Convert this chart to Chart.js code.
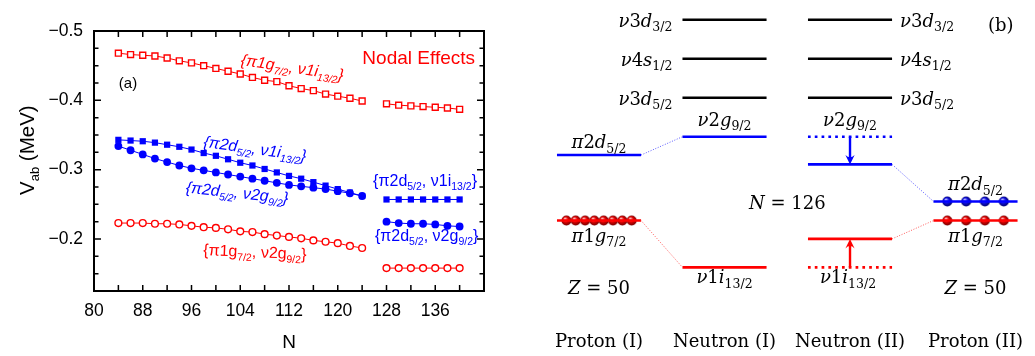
<!DOCTYPE html>
<html><head><meta charset="utf-8">
<script src="https://cdn.jsdelivr.net/npm/chart.js@4.4.0/dist/chart.umd.min.js"></script>
<style>
html,body{margin:0;padding:0;background:#fff;width:1035px;height:356px;overflow:hidden}
#ca{position:absolute;left:0;top:0}
#cb{position:absolute;left:500px;top:0}
</style>
</head><body>
<canvas id="ca" width="500" height="356"></canvas>
<canvas id="cb" width="535" height="356"></canvas>
<script>
// ---------------- Panel (a) data ----------------
const N_seg1 = [84,86,88,90,92,94,96,98,100,102,104,106,108,110,112,114,116,118,120,122,124];
const N_seg2 = [128,130,132,134,136,138,140];
// {π1g7/2, ν1i13/2}  (red open squares)
const redSq1 = [-0.468,-0.466,-0.465,-0.464,-0.461,-0.457,-0.454,-0.450,-0.446,-0.442,-0.438,-0.433,-0.429,-0.427,-0.421,-0.417,-0.414,-0.409,-0.406,-0.403,-0.399];
const redSq2 = [-0.395,-0.393,-0.392,-0.391,-0.390,-0.389,-0.387];
// {π2d5/2, ν1i13/2}  (blue filled squares)
const blueSq1 = [-0.343,-0.342,-0.341,-0.339,-0.336,-0.333,-0.329,-0.324,-0.320,-0.315,-0.310,-0.306,-0.301,-0.296,-0.291,-0.287,-0.282,-0.277,-0.272,-0.267,-0.262];
const blueSq2 = [-0.257,-0.257,-0.257,-0.257,-0.257,-0.257,-0.257];
// {π2d5/2, ν2g9/2}  (blue filled circles)
const blueCi1 = [-0.334,-0.328,-0.322,-0.316,-0.311,-0.306,-0.302,-0.299,-0.296,-0.293,-0.290,-0.287,-0.284,-0.281,-0.278,-0.276,-0.274,-0.272,-0.269,-0.266,-0.262];
const blueCi2 = [-0.225,-0.223,-0.222,-0.222,-0.221,-0.219,-0.218];
// {π1g7/2, ν2g9/2}  (red open circles)
const redCi1 = [-0.223,-0.223,-0.223,-0.222,-0.222,-0.221,-0.219,-0.217,-0.216,-0.214,-0.211,-0.210,-0.207,-0.205,-0.203,-0.201,-0.198,-0.196,-0.194,-0.190,-0.187];
const redCi2 = [-0.158,-0.158,-0.158,-0.158,-0.158,-0.158,-0.158];
const xTickLabels = [80,88,96,104,112,120,128,136];
const yTickLabels = [-0.5,-0.4,-0.3,-0.2];

// ---------------- Panel (b) data ----------------
const columnNames = ['Proton (I)','Neutron (I)','Neutron (II)','Proton (II)'];
const blackE    = [2.0, 1.0, 0.0];               // ν3d3/2, ν4s1/2, ν3d5/2
const blackMain = ['ν3d','ν4s','ν3d'];
const blackSub  = ['3/2','1/2','5/2'];
const E_pi2d = [-1.47, -2.66];   // Proton (I), Proton (II)
const E_pi1g = [-3.15, -3.15];   // Proton (I), Proton (II)
const E_nu2g = [-1.00, -1.71];   // Neutron (I), Neutron (II)
const E_nu1i = [-4.35, -3.62];   // Neutron (I), Neutron (II)
const spheresPI  = [-0.26,-0.186,-0.111,-0.037,0.037,0.111,0.186,0.26]; // π1g7/2 occupancy, Proton (I)
const spheresPII = [-0.225,-0.075,0.075,0.225];                          // Proton (II)

const RED = '#ff0000', BLUE = '#0000ff';

// ---------- rich text helper ----------
function fontFor(p,o){ const it = p.it!==undefined ? p.it : o.italic; return (it?'italic ':'') + (p.sub?o.sub:o.size)+'px '+o.family; }
function drawRich(ctx, parts, x, y, o){
  ctx.save(); ctx.translate(x,y); if(o.rot) ctx.rotate(o.rot*Math.PI/180);
  let w=0; for(const p of parts){ ctx.font=fontFor(p,o); w+=ctx.measureText(p.t).width; }
  let cx = o.align==='center' ? -w/2 : (o.align==='right' ? -w : 0);
  ctx.fillStyle=o.color||'#000'; ctx.textAlign='left'; ctx.textBaseline='alphabetic';
  for(const p of parts){ ctx.font=fontFor(p,o); ctx.fillText(p.t, cx, p.sub?o.subDy:0); cx+=ctx.measureText(p.t).width; }
  ctx.restore();
}
function sub2(a,s1,b,s2){ return [{t:a},{t:s1,sub:true},{t:b},{t:s2,sub:true},{t:'}'}]; }
// math style: letters italic, digits and symbols upright
function mathParts(main, sub){
  const parts=[];
  for(const ch of main){
    const it = /[A-Za-z\u03B1-\u03C9]/.test(ch);
    if(parts.length && parts[parts.length-1].it===it && !parts[parts.length-1].sub) parts[parts.length-1].t+=ch;
    else parts.push({t:ch,it:it});
  }
  if(sub) parts.push({t:sub,sub:true,it:false});
  return parts;
}

// ---------------- Chart (a) ----------------
function seg(v1,v2){
  return N_seg1.map((n,i)=>({x:n,y:v1[i]})).concat([{x:126,y:null}], N_seg2.map((n,i)=>({x:n,y:v2[i]})));
}
const frameA = {
  id:'frameA',
  afterDraw(chart){
    const ctx=chart.ctx, ca=chart.chartArea, xs=chart.scales.x, ys=chart.scales.y;
    ctx.save();
    ctx.strokeStyle='#000'; ctx.lineWidth=1.5;
    ctx.beginPath();
    xs.ticks.forEach(t=>{
      const px=xs.getPixelForValue(t.value);
      ctx.moveTo(px,ca.bottom); ctx.lineTo(px,ca.bottom-6);
      ctx.moveTo(px,ca.top); ctx.lineTo(px,ca.top+6);
    });
    ys.ticks.forEach(t=>{
      const major = Math.abs(Math.round(t.value*40))%4===0;
      const L = major?7:4.5, py=ys.getPixelForValue(t.value);
      ctx.moveTo(ca.left,py); ctx.lineTo(ca.left+L,py);
      ctx.moveTo(ca.right,py); ctx.lineTo(ca.right-L,py);
    });
    ctx.stroke();
    ctx.lineWidth=2;
    ctx.strokeRect(ca.left,ca.top,ca.right-ca.left,ca.bottom-ca.top);
    // axis titles
    ctx.fillStyle='#000';
    ctx.font='19px "Liberation Sans"'; ctx.textAlign='center'; ctx.textBaseline='alphabetic';
    ctx.fillText('N',(ca.left+ca.right)/2,348);
    drawRich(ctx,[{t:'V'},{t:'ab',sub:true},{t:' (MeV)'}],34,195,{size:20.5,sub:13,subDy:5,family:'"Liberation Sans"',rot:-90,color:'#000'});
    // annotations
    ctx.font='15px "Liberation Sans"'; ctx.textAlign='center';
    ctx.fillText('(a)',ca.left+34,ca.top+57);
    ctx.fillStyle=RED; ctx.font='19px "Liberation Sans"'; ctx.textAlign='right';
    ctx.fillText('Nodal Effects',ca.right-9,ca.top+33);
    const X=v=>xs.getPixelForValue(v), Y=v=>ys.getPixelForValue(v);
    const lo={size:16,sub:10.5,subDy:4,family:'"Liberation Sans"'};
    drawRich(ctx,sub2('{π1g','7/2',', ν1i','13/2'),X(104),Y(-0.451),Object.assign({},lo,{color:RED,italic:true,rot:8.5}));
    drawRich(ctx,sub2('{π2d','5/2',', ν1i','13/2'),X(97.9),Y(-0.333),Object.assign({},lo,{color:BLUE,italic:true,rot:8}));
    drawRich(ctx,sub2('{π2d','5/2',', ν2g','9/2'),X(95),Y(-0.267),Object.assign({},lo,{color:BLUE,italic:true,rot:6}));
    drawRich(ctx,sub2('{π1g','7/2',', ν2g','9/2'),X(97.9),Y(-0.177),Object.assign({},lo,{color:RED,rot:2.5}));
    drawRich(ctx,sub2('{π2d','5/2',', ν1i','13/2'),X(125.8),Y(-0.277),Object.assign({},lo,{color:BLUE}));
    drawRich(ctx,sub2('{π2d','5/2',', ν2g','9/2'),X(126.1),Y(-0.197),Object.assign({},lo,{color:BLUE}));
    ctx.restore();
  }
};
new Chart(document.getElementById('ca'),{
  type:'scatter',
  data:{datasets:[
    {data:seg(redCi1,redCi2),showLine:true,borderColor:RED,borderWidth:1,pointStyle:'circle',pointRadius:3.4,pointBorderWidth:1.4,pointBorderColor:RED,pointBackgroundColor:'#fff'},
    {data:seg(redSq1,redSq2),showLine:true,borderColor:RED,borderWidth:1,pointStyle:'rect',pointRadius:4.2,pointBorderWidth:1.4,pointBorderColor:RED,pointBackgroundColor:'#fff'},
    {data:seg(blueCi1,blueCi2),showLine:true,borderColor:BLUE,borderWidth:1,pointStyle:'circle',pointRadius:3.9,pointBorderWidth:0,pointBackgroundColor:BLUE},
    {data:seg(blueSq1,blueSq2),showLine:true,borderColor:BLUE,borderWidth:1,pointStyle:'rect',pointRadius:4.4,pointBorderWidth:0,pointBackgroundColor:BLUE}
  ]},
  options:{
    responsive:false, animation:false, devicePixelRatio:1,
    layout:{padding:{top:31,right:16,left:0,bottom:0},autoPadding:false},
    plugins:{legend:{display:false},tooltip:{enabled:false}},
    scales:{
      x:{type:'linear',min:80,max:144,
         grid:{display:false,drawTicks:false},border:{display:false},
         ticks:{stepSize:4,autoSkip:false,maxRotation:0,padding:10,color:'#000',font:{family:'"Liberation Sans"',size:17.5},
           callback:v=> xTickLabels.includes(v)? String(v):''},
         afterFit:s=>{s.height=65;}},
      y:{type:'linear',reverse:true,min:-0.5,max:-0.125,
         grid:{display:false,drawTicks:false},border:{display:false},
         ticks:{stepSize:0.025,autoSkip:false,padding:11,color:'#000',font:{family:'"Liberation Sans"',size:17.5},
           callback:v=>{ const r=Math.round(v*10)/10; return (Math.abs(v-r)<1e-6 && yTickLabels.includes(r)) ? '\u2212'+Math.abs(r).toFixed(1) : ''; }},
         afterFit:s=>{s.width=94;}}
    }
  },
  plugins:[frameA]
});

// ---------------- Chart (b) ----------------
const HW = 0.335;
function sphere(light,mid,dark){
  const c=document.createElement('canvas'); c.width=c.height=11;
  const g=c.getContext('2d');
  const grd=g.createRadialGradient(4,3.6,0.4,5.5,5.5,5.3);
  grd.addColorStop(0,light); grd.addColorStop(0.45,mid); grd.addColorStop(1,dark);
  g.fillStyle=grd; g.beginPath(); g.arc(5.5,5.5,5,0,Math.PI*2); g.fill();
  return c;
}
const redBall = sphere('#ffc0c0','#e00000','#6a0000');
const blueBall = sphere('#b8b8ff','#1010e0','#000060');
function lvl(c,E,color,dotted){
  return {data:[{x:c-HW,y:E},{x:c+HW,y:E}],showLine:true,borderColor:color,borderWidth:2.6,pointRadius:0,
          borderDash:dotted?[2.7,4.1]:[],borderCapStyle:'butt'};
}
function conn(x1,E1,x2,E2,color){
  return {data:[{x:x1,y:E1},{x:x2,y:E2}],showLine:true,borderColor:color,borderWidth:1,pointRadius:0,borderDash:[1,1.6]};
}
function balls(c,xs,E,img){
  return {data:xs.map(d=>({x:c+d,y:E})),showLine:false,pointStyle:img,pointRadius:5};
}
const dsB = [];
blackE.forEach(E=>{ dsB.push(lvl(1,E,'#000')); dsB.push(lvl(2,E,'#000')); });
dsB.push(conn(0+HW,E_pi2d[0],1-HW,E_nu2g[0],'#5a5aff'));
dsB.push(conn(0+HW,E_pi1g[0],1-HW,E_nu1i[0],'#ff5a5a'));
dsB.push(conn(2+HW,E_nu2g[1],3-HW,E_pi2d[1],'#5a5aff'));
dsB.push(conn(2+HW,E_nu1i[1],3-HW,E_pi1g[1],'#ff5a5a'));
dsB.push(lvl(0,E_pi2d[0],BLUE));
dsB.push(lvl(0,E_pi1g[0],RED));
dsB.push(lvl(1,E_nu2g[0],BLUE));
dsB.push(lvl(1,E_nu1i[0],RED));
dsB.push(lvl(2,E_nu2g[0],BLUE,true));
dsB.push(lvl(2,E_nu2g[1],BLUE));
dsB.push(lvl(2,E_nu1i[0],RED,true));
dsB.push(lvl(2,E_nu1i[1],RED));
dsB.push(lvl(3,E_pi2d[1],BLUE));
dsB.push(lvl(3,E_pi1g[1],RED));
dsB.push(balls(0,spheresPI,E_pi1g[0],redBall));
dsB.push(balls(3,spheresPII,E_pi2d[1],blueBall));
dsB.push(balls(3,spheresPII,E_pi1g[1],redBall));

function arrow(ctx,x,y0,y1,color){
  const dir=Math.sign(y1-y0), L=9.5, W=4.6;
  ctx.save(); ctx.strokeStyle=color; ctx.fillStyle=color; ctx.lineWidth=2.4;
  ctx.beginPath(); ctx.moveTo(x,y0); ctx.lineTo(x,y1-dir*L*0.6); ctx.stroke();
  ctx.beginPath(); ctx.moveTo(x,y1); ctx.lineTo(x-W,y1-dir*L);
  ctx.quadraticCurveTo(x,y1-dir*L*0.5,x+W,y1-dir*L); ctx.closePath(); ctx.fill();
  ctx.restore();
}
const textB = {
  id:'textB',
  afterDraw(chart){
    const ctx=chart.ctx, ca=chart.chartArea, xs=chart.scales.x, ys=chart.scales.y;
    const X=v=>xs.getPixelForValue(v), Y=v=>ys.getPixelForValue(v);
    arrow(ctx,X(2),Y(E_nu2g[0]),Y(E_nu2g[1]),BLUE);
    arrow(ctx,X(2),Y(E_nu1i[0]),Y(E_nu1i[1]),RED);
    const o={size:18,sub:12.5,subDy:4.5,family:'"DejaVu Serif"',color:'#000'};
    const O=(a)=>Object.assign({},o,a);
    blackE.forEach((E,i)=>{
      drawRich(ctx,mathParts(blackMain[i],blackSub[i]),X(1-HW)-10,Y(E)+7,O({align:'right'}));
      drawRich(ctx,mathParts(blackMain[i],blackSub[i]),X(2+HW)+8,Y(E)+7,O({align:'left'}));
    });
    drawRich(ctx,mathParts('π2d','5/2'),X(0),Y(E_pi2d[0])-7,O({align:'center'}));
    drawRich(ctx,mathParts('π1g','7/2'),X(0),Y(E_pi1g[0])+21,O({align:'center'}));
    drawRich(ctx,mathParts('ν2g','9/2'),X(1),Y(E_nu2g[0])-11,O({align:'center'}));
    drawRich(ctx,mathParts('ν1i','13/2'),X(1),Y(E_nu1i[0])+16,O({align:'center'}));
    drawRich(ctx,mathParts('ν2g','9/2'),X(2),Y(E_nu2g[0])-11,O({align:'center'}));
    drawRich(ctx,mathParts('ν1i','13/2'),X(2)-2,Y(E_nu1i[0])+16,O({align:'center'}));
    drawRich(ctx,mathParts('π2d','5/2'),X(3),Y(E_pi2d[1])-11,O({align:'center'}));
    drawRich(ctx,mathParts('π1g','7/2'),X(3),Y(E_pi1g[1])+21,O({align:'center'}));
    drawRich(ctx,mathParts('Z = 50'),X(0),Y(E_pi1g[0])+73,O({align:'center'}));
    drawRich(ctx,mathParts('Z = 50'),X(3),Y(E_pi1g[1])+73,O({align:'center'}));
    drawRich(ctx,mathParts('N = 126'),X(1.5),Y(E_pi1g[0])-12,O({align:'center'}));
    columnNames.forEach((n,i)=>drawRich(ctx,[{t:n}],X(i),ca.bottom-9,O({align:'center'})));
    drawRich(ctx,[{t:'(b)'}],ca.right-47,ca.top+31,O({align:'left'}));
  }
};
new Chart(document.getElementById('cb'),{
  type:'scatter',
  data:{datasets:dsB},
  options:{
    responsive:false, animation:false, devicePixelRatio:1,
    layout:{padding:0,autoPadding:false},
    plugins:{legend:{display:false},tooltip:{enabled:false}},
    scales:{
      x:{type:'linear',display:false,min:-0.789,max:3.474},
      y:{type:'linear',display:false,min:-6.623,max:2.505}
    }
  },
  plugins:[textB]
});
</script>
</body></html>
